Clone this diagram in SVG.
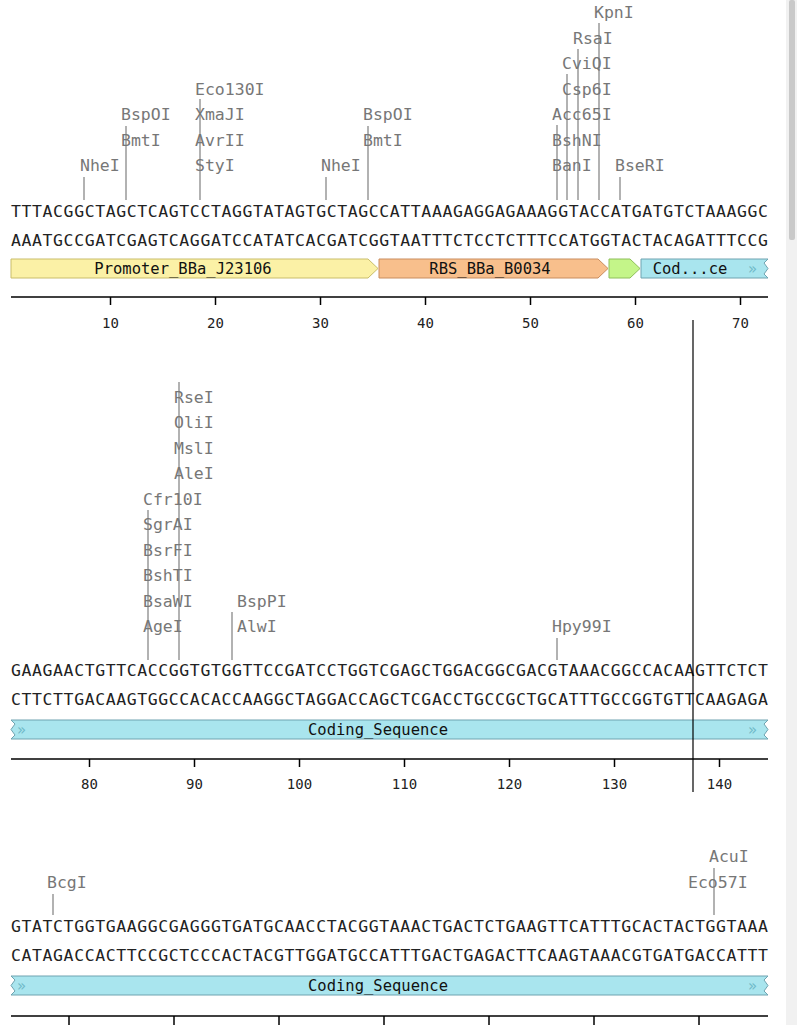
<svg xmlns="http://www.w3.org/2000/svg" width="797" height="1025" viewBox="0 0 797 1025">
<style>
.seq{font-family:"DejaVu Sans Mono",monospace;font-size:16.5px;fill:#222}
.lab{font-family:"DejaVu Sans Mono",monospace;font-size:16.5px;fill:#777}
.ft{font-family:"DejaVu Sans Mono",monospace;font-size:15.5px;fill:#111;text-anchor:middle}
.num{font-family:"DejaVu Sans Mono",monospace;font-size:14px;fill:#222;text-anchor:middle}
.cut{stroke:#aaa;stroke-width:1.8}
.rul{stroke:#000;stroke-width:1.5}
.cds{fill:#a9e5ee;stroke:#6fa3b0}
.chev{font-family:"DejaVu Sans",sans-serif;font-size:15px;fill:#6fb9c8}
</style>
<rect width="797" height="1025" fill="#fff"/>
<rect x="786" y="0" width="11" height="1025" fill="#f1f1f1"/>
<rect x="789" y="0" width="6" height="240" fill="#c9c9c9" rx="2"/>
<g id="sec1">
<g id="cuts1">
<line class="cut" x1="84" y1="177" x2="84" y2="200"/>
<line class="cut" x1="126" y1="126" x2="126" y2="200"/>
<line class="cut" x1="200" y1="99" x2="200" y2="200"/>
<line class="cut" x1="326" y1="177" x2="326" y2="200"/>
<line class="cut" x1="368" y1="126" x2="368" y2="200"/>
<line class="cut" x1="557" y1="125" x2="557" y2="200"/>
<line class="cut" x1="567" y1="74" x2="567" y2="200"/>
<line class="cut" x1="578" y1="49" x2="578" y2="200"/>
<line class="cut" x1="599" y1="23" x2="599" y2="200"/>
<line class="cut" x1="620" y1="177" x2="620" y2="200"/>
</g>
<g id="labels1">
<text class="lab" x="80" y="171">NheI</text>
<text class="lab" x="121" y="120">BspOI</text><text class="lab" x="121" y="145.5">BmtI</text>
<text class="lab" x="195" y="94.5">Eco130I</text><text class="lab" x="195" y="120">XmaJI</text><text class="lab" x="195" y="145.5">AvrII</text><text class="lab" x="195" y="171">StyI</text>
<text class="lab" x="321" y="171">NheI</text>
<text class="lab" x="363" y="120">BspOI</text><text class="lab" x="363" y="145.5">BmtI</text>
<text class="lab" x="552" y="171">BanI</text><text class="lab" x="552" y="145.5">BshNI</text><text class="lab" x="552" y="120">Acc65I</text>
<text class="lab" x="562" y="94.5">Csp6I</text><text class="lab" x="562" y="69">CviQI</text>
<text class="lab" x="573" y="43.5">RsaI</text><text class="lab" x="594" y="18">KpnI</text>
<text class="lab" x="615" y="171">BseRI</text>
</g>
<text class="seq" x="11" y="217" textLength="757" lengthAdjust="spacing">TTTACGGCTAGCTCAGTCCTAGGTATAGTGCTAGCCATTAAAGAGGAGAAAGGTACCATGATGTCTAAAGGC</text>
<text class="seq" x="11" y="246" textLength="757" lengthAdjust="spacing">AAATGCCGATCGAGTCAGGATCCATATCACGATCGGTAATTTCTCCTCTTTCCATGGTACTACAGATTTCCG</text>
<g id="promoter"><polygon points="11,259 368,259 378,268.5 368,278 11,278" fill="#fbf1a6" stroke="#c9bd6a"/><text class="ft" x="183" y="274">Promoter_BBa_J23106</text></g>
<g id="rbs"><polygon points="379,259 598,259 608,268.5 598,278 379,278" fill="#f8bf8c" stroke="#c98d5e"/><text class="ft" x="490" y="274">RBS_BBa_B0034</text></g>
<g id="startcodon"><polygon points="609,259 630,259 640,268.5 630,278 609,278" fill="#c4f589" stroke="#8ebf5a"/></g>
<g id="cds1"><polygon class="cds" points="641,259 768,259 764,263 768,268.5 764,274 768,278 641,278"/><text class="ft" x="690" y="274">Cod...ce</text><text class="chev" x="748" y="274">»</text></g>
<g id="ruler1">
<line class="rul" x1="11" y1="297" x2="768" y2="297"/>
<line class="rul" x1="110.5" y1="297" x2="110.5" y2="305"/><line class="rul" x1="215.5" y1="297" x2="215.5" y2="305"/><line class="rul" x1="320.5" y1="297" x2="320.5" y2="305"/><line class="rul" x1="425.5" y1="297" x2="425.5" y2="305"/><line class="rul" x1="530.5" y1="297" x2="530.5" y2="305"/><line class="rul" x1="635.5" y1="297" x2="635.5" y2="305"/><line class="rul" x1="740.5" y1="297" x2="740.5" y2="305"/>
<text class="num" x="110.5" y="328">10</text><text class="num" x="215.5" y="328">20</text><text class="num" x="320.5" y="328">30</text><text class="num" x="425.5" y="328">40</text><text class="num" x="530.5" y="328">50</text><text class="num" x="635.5" y="328">60</text><text class="num" x="740.5" y="328">70</text>
</g>
</g>
<g id="sec2">
<g id="cuts2">
<line class="cut" x1="148" y1="510" x2="148" y2="660"/>
<line class="cut" x1="179" y1="382" x2="179" y2="660"/>
<line class="cut" x1="232" y1="612" x2="232" y2="660"/>
<line class="cut" x1="557" y1="638" x2="557" y2="660"/>
</g>
<g id="labels2">
<text class="lab" x="143" y="632">AgeI</text><text class="lab" x="143" y="606.5">BsaWI</text><text class="lab" x="143" y="581">BshTI</text><text class="lab" x="143" y="555.5">BsrFI</text><text class="lab" x="143" y="530">SgrAI</text><text class="lab" x="143" y="504.5">Cfr10I</text>
<text class="lab" x="174" y="479">AleI</text><text class="lab" x="174" y="453.5">MslI</text><text class="lab" x="174" y="428">OliI</text><text class="lab" x="174" y="402.5">RseI</text>
<text class="lab" x="237" y="606.5">BspPI</text><text class="lab" x="237" y="632">AlwI</text>
<text class="lab" x="552" y="632">Hpy99I</text>
</g>
<text class="seq" x="11" y="676" textLength="757" lengthAdjust="spacing">GAAGAACTGTTCACCGGTGTGGTTCCGATCCTGGTCGAGCTGGACGGCGACGTAAACGGCCACAAGTTCTCT</text>
<text class="seq" x="11" y="705" textLength="757" lengthAdjust="spacing">CTTCTTGACAAGTGGCCACACCAAGGCTAGGACCAGCTCGACCTGCCGCTGCATTTGCCGGTGTTCAAGAGA</text>
<g id="cds2"><polygon class="cds" points="11,720 768,720 764,724 768,729.5 764,735 768,739 11,739 15,735 11,729.5 15,724"/><text class="ft" x="378" y="735">Coding_Sequence</text><text class="chev" x="17" y="735">»</text><text class="chev" x="748" y="735">»</text></g>
<g id="ruler2">
<line class="rul" x1="11" y1="759" x2="768" y2="759"/>
<line class="rul" x1="89.5" y1="759" x2="89.5" y2="767"/><line class="rul" x1="194.5" y1="759" x2="194.5" y2="767"/><line class="rul" x1="299.5" y1="759" x2="299.5" y2="767"/><line class="rul" x1="404.5" y1="759" x2="404.5" y2="767"/><line class="rul" x1="509.5" y1="759" x2="509.5" y2="767"/><line class="rul" x1="614.5" y1="759" x2="614.5" y2="767"/><line class="rul" x1="719.5" y1="759" x2="719.5" y2="767"/>
<text class="num" x="89.5" y="789">80</text><text class="num" x="194.5" y="789">90</text><text class="num" x="299.5" y="789">100</text><text class="num" x="404.5" y="789">110</text><text class="num" x="509.5" y="789">120</text><text class="num" x="614.5" y="789">130</text><text class="num" x="719.5" y="789">140</text>
</g>
<line id="cursor" x1="693" y1="320" x2="693" y2="792" stroke="#000" stroke-width="1.2"/>
</g>
<g id="sec3">
<g id="cuts3">
<line class="cut" x1="53" y1="894" x2="53" y2="915"/>
<line class="cut" x1="714" y1="868" x2="714" y2="915"/>
</g>
<g id="labels3">
<text class="lab" x="47" y="888">BcgI</text>
<text class="lab" x="709" y="862">AcuI</text><text class="lab" x="688" y="888">Eco57I</text>
</g>
<text class="seq" x="11" y="932" textLength="757" lengthAdjust="spacing">GTATCTGGTGAAGGCGAGGGTGATGCAACCTACGGTAAACTGACTCTGAAGTTCATTTGCACTACTGGTAAA</text>
<text class="seq" x="11" y="961" textLength="757" lengthAdjust="spacing">CATAGACCACTTCCGCTCCCACTACGTTGGATGCCATTTGACTGAGACTTCAAGTAAACGTGATGACCATTT</text>
<g id="cds3"><polygon class="cds" points="11,976 768,976 764,980 768,985.5 764,991 768,995 11,995 15,991 11,985.5 15,980"/><text class="ft" x="378" y="991">Coding_Sequence</text><text class="chev" x="17" y="991">»</text><text class="chev" x="748" y="991">»</text></g>
<g id="ruler3">
<line class="rul" x1="11" y1="1016" x2="768" y2="1016"/>
<line class="rul" x1="69" y1="1016" x2="69" y2="1025"/><line class="rul" x1="174" y1="1016" x2="174" y2="1025"/><line class="rul" x1="279" y1="1016" x2="279" y2="1025"/><line class="rul" x1="384" y1="1016" x2="384" y2="1025"/><line class="rul" x1="489" y1="1016" x2="489" y2="1025"/><line class="rul" x1="594" y1="1016" x2="594" y2="1025"/><line class="rul" x1="699" y1="1016" x2="699" y2="1025"/>
</g>
</g>
</svg>
